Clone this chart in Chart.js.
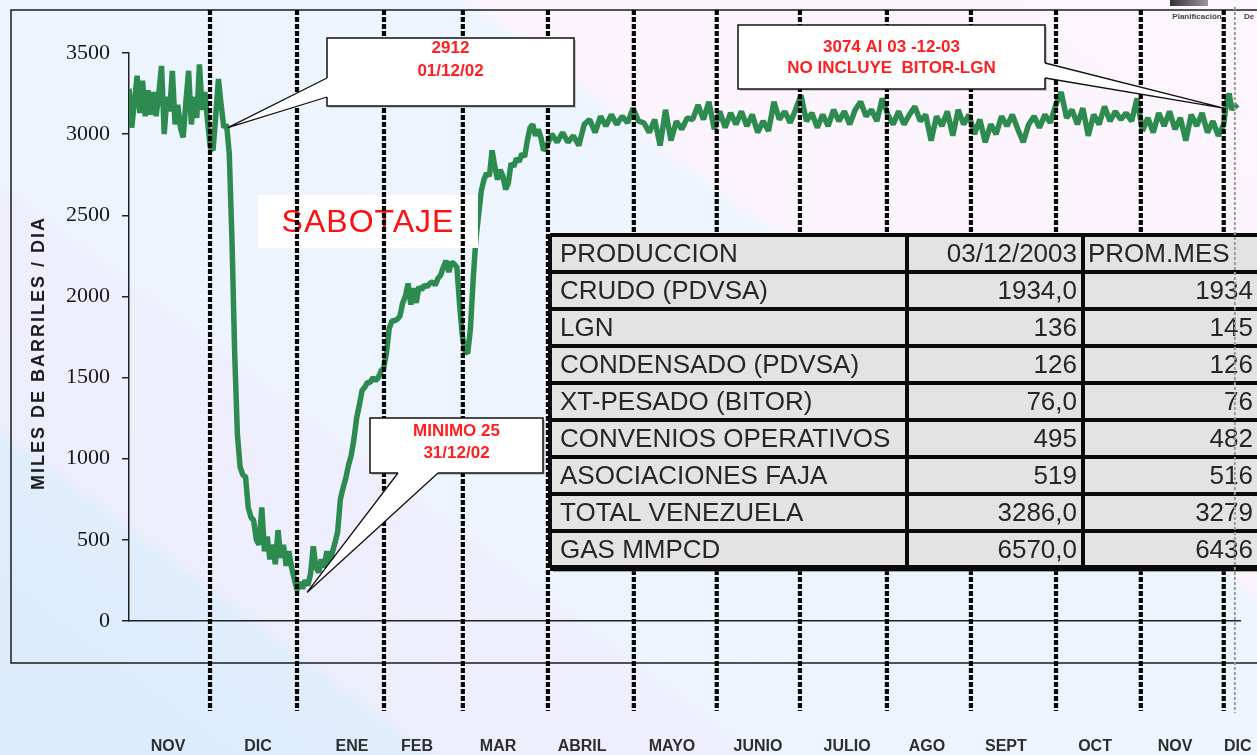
<!DOCTYPE html>
<html>
<head>
<meta charset="utf-8">
<script src="https://cdn.jsdelivr.net/npm/chart.js@4.4.1/dist/chart.umd.min.js"></script>
<style>
  html, body { margin: 0; padding: 0; }
  body {
    width: 1257px;
    height: 755px;
    overflow: hidden;
    background: linear-gradient(37deg, #dcecfd 0%, #dfedfd 18.5%, #edeefc 19.5%, #efeefc 33%, #eef4fe 34%, #eef5fe 64.5%, #fcf4fc 65.5%, #fdf5fd 100%);
  }
  #wrap { position: relative; width: 1257px; height: 755px; }
</style>
</head>
<body>
<div id="wrap"><canvas id="produccionChart"></canvas></div>
<script>
// dias desde el inicio de la serie (fines de octubre 2002)
var dayIndex = [
  0, 1, 2, 3, 4, 5, 6, 7, 8, 9, 10, 11, 12, 13, 14, 15, 16, 17, 18, 19,
  20, 21, 22, 23, 24, 25, 26, 27, 28, 29, 30, 31, 32, 33, 34, 35, 36, 37, 38, 39,
  40, 41, 42, 43, 44, 45, 46, 47, 48, 49, 50, 51, 52, 53, 54, 55, 56, 57, 58, 59,
  60, 61, 62, 63, 64, 65, 66, 67, 68, 69, 70, 71, 72, 73, 74, 75, 76, 77, 78, 79,
  80, 81, 82, 83, 84, 85, 86, 87, 88, 89, 90, 91, 92, 93, 94, 95, 96, 97, 98, 99,
  100, 101, 102, 103, 104, 105, 106, 107, 108, 109, 110, 111, 112, 113, 114, 115, 116, 117, 118, 119,
  120, 121, 122, 123, 124, 125, 126, 127, 128, 129, 130, 131, 132, 133, 134, 135, 136, 137, 138, 139,
  140, 141, 142, 143, 144, 145, 146, 147, 148, 149, 150, 151, 152, 153, 154, 155,
  156, 158, 160, 162, 164, 166, 168, 170, 172, 174, 176, 178, 180, 182, 184, 186, 188, 190, 192, 194,
  196, 198, 200, 202, 204, 206, 208, 210, 212, 214, 216, 218, 220, 222, 224, 226, 228, 230, 232, 234,
  236, 238, 240, 242, 244, 246, 248, 250, 252, 254, 256, 258, 260, 262, 264, 266, 268, 270, 272, 274,
  276, 278, 280, 282, 284, 286, 288, 290, 292, 294, 296, 298, 300, 302, 304, 306, 308, 310, 312, 314,
  316, 318, 320, 322, 324, 326, 328, 330, 332, 334, 336, 338, 340, 342, 344, 346, 348, 350, 352, 354,
  356, 358, 360, 362, 364, 366, 368, 370, 372, 374, 376, 378, 380, 382, 384, 386, 388, 390, 392, 394,
  396, 398, 400, 402, 404, 405, 406, 407, 408, 409
];

// miles de barriles por dia
var barrels = [
  3280, 3040, 3200, 3360, 3130, 3330, 3110, 3270, 3120, 3260, 3110, 3250, 3420, 3000, 3230, 3140, 3390, 3060, 3180, 3040,
  2980, 3200, 3390, 3060, 3230, 3100, 3430, 3150, 3260, 3080, 2920, 2900, 3110, 3340, 3180, 3040, 3060, 2880, 2350, 1650,
  1150, 950, 900, 890, 700, 640, 620, 500, 470, 700, 430, 520, 380, 470, 350, 560, 390, 470, 340, 430,
  330, 260, 190, 240, 200, 250, 220, 290, 460, 330, 300, 380, 330, 430, 340, 420, 480, 550, 750, 820,
  880, 960, 1020, 1120, 1250, 1330, 1420, 1440, 1470, 1470, 1500, 1480, 1500, 1540, 1560, 1650, 1800, 1850, 1850, 1860,
  1880, 1960, 2000, 2080, 1950, 2050, 1960, 2060, 2040, 2070, 2060, 2080, 2090, 2070, 2110, 2130, 2180, 2220, 2150, 2210,
  2200, 2180, 1950, 1760, 1660, 1650, 1800, 2100, 2350, 2500, 2650, 2720, 2760, 2740, 2900, 2800, 2720, 2780, 2740, 2660,
  2700, 2820, 2800, 2850, 2830, 2880, 2860, 2960, 3040, 3060, 2990, 3030, 2980, 2900, 2920, 2960,
  3000, 2950, 3010, 2950, 2990, 2930, 3060, 3090, 3010, 3110, 3050, 3120, 3060, 3110, 3070, 3160, 3080, 3070, 3010, 3090,
  2930, 3150, 2960, 3080, 3030, 3100, 3090, 3180, 3090, 3200, 3030, 3140, 3040, 3130, 3060, 3140, 3050, 3120, 3010, 3080,
  3020, 3200, 3090, 3140, 3070, 3150, 3240, 3080, 3130, 3040, 3120, 3050, 3150, 3080, 3140, 3060, 3150, 3200, 3110, 3150,
  3080, 3220, 3120, 3060, 3140, 3060, 3120, 3170, 3080, 3120, 2960, 3110, 3050, 3140, 2990, 3150, 3060, 3120, 3000, 3090,
  2950, 3060, 3000, 3110, 3050, 3120, 3030, 2950, 3060, 3110, 3040, 3120, 3070, 3180, 3260, 3100, 3150, 3060, 3160, 2990,
  3120, 3060, 3170, 3080, 3140, 3090, 3130, 3080, 3220, 3020, 3100, 3010, 3130, 3050, 3140, 3030, 3100, 2960, 3120, 3050,
  3130, 3010, 3080, 2990, 3060, 3200, 3250, 3150, 3180, 3160
];

var yTicks = [0, 500, 1000, 1500, 2000, 2500, 3000, 3500];

var monthLabels = ["NOV", "DIC", "ENE", "FEB", "MAR", "ABRIL", "MAYO", "JUNIO", "JULIO", "AGO", "SEPT", "OCT", "NOV", "DIC"];
var monthLabelDays = [14.4, 47.6, 82.3, 106.3, 136.2, 167.2, 200.4, 232.1, 265.0, 294.5, 323.6, 356.5, 386.0, 409.2];
var monthSplitDays = [29.9, 62.0, 94.1, 123.2, 154.6, 186.3, 216.9, 247.6, 279.7, 310.7, 342.1, 373.4, 404.0];
var cutoffDay = 408.1;

// notas: texto y punto que senalan
var noteLines = [["2912", "01/12/02"], ["3074 Al 03 -12-03", "NO INCLUYE  BITOR-LGN"], ["MINIMO 25", "31/12/02"]];
var noteDays = [36.5, 404, 65.7];
var noteValues = [3040, 3160, 176];

var tableLabels = ["PRODUCCION", "CRUDO (PDVSA)", "LGN", "CONDENSADO (PDVSA)", "XT-PESADO (BITOR)", "CONVENIOS OPERATIVOS", "ASOCIACIONES FAJA", "TOTAL VENEZUELA", "GAS MMPCD"];
var tableDay = ["03/12/2003", "1934,0", "136", "126", "76,0", "495", "519", "3286,0", "6570,0"];
var tableMonth = ["PROM.MES", "1934", "145", "126", "76", "482", "516", "3279", "6436"];

function vDotted(ctx, x, y1, y2, color, width, dash) {
  ctx.save();
  ctx.strokeStyle = color;
  ctx.lineWidth = width;
  ctx.setLineDash(dash);
  ctx.beginPath();
  ctx.moveTo(x, y1);
  ctx.lineTo(x, y2);
  ctx.stroke();
  ctx.restore();
}

function drawNote(ctx, box, b1, b2, inward, tip, lines, lineYs) {
  ctx.save();
  ctx.fillStyle = "rgba(0,0,0,0.18)";
  ctx.fillRect(box[0] + 2, box[1] + 2, box[2], box[3]);
  ctx.fillStyle = "#ffffff";
  ctx.fillRect(box[0], box[1], box[2], box[3]);
  ctx.strokeStyle = "#111";
  ctx.lineWidth = 1.5;
  ctx.strokeRect(box[0], box[1], box[2], box[3]);

  // cuña del globo
  ctx.beginPath();
  ctx.moveTo(b1[0] + inward[0], b1[1] + inward[1]);
  ctx.lineTo(b1[0], b1[1]);
  ctx.lineTo(tip[0], tip[1]);
  ctx.lineTo(b2[0], b2[1]);
  ctx.lineTo(b2[0] + inward[0], b2[1] + inward[1]);
  ctx.closePath();
  ctx.fill();
  ctx.lineWidth = 1.3;
  ctx.beginPath();
  ctx.moveTo(b1[0], b1[1]);
  ctx.lineTo(tip[0], tip[1]);
  ctx.lineTo(b2[0], b2[1]);
  ctx.stroke();

  ctx.fillStyle = "#ff1f1f";
  ctx.font = "bold 17px 'Liberation Sans', Arial, sans-serif";
  ctx.textAlign = "center";
  ctx.textBaseline = "middle";
  var cx = box[0] + box[2] / 2;
  for (var i = 0; i < lines.length; i++) {
    ctx.fillText(lines[i], cx, lineYs[i]);
  }
  ctx.restore();
}

var overlayPlugin = {
  id: "overlay",
  beforeDatasetsDraw: function (chart) {
    var ctx = chart.ctx;
    ctx.save();
    ctx.strokeStyle = "#1c1c1c";
    ctx.lineWidth = 1.5;
    ctx.strokeRect(11, 10, 1300, 653);
    ctx.restore();
  },
  afterDatasetsDraw: function (chart) {
    var ctx = chart.ctx;
    var xs = chart.scales.x;
    var ys = chart.scales.y;

    // SABOTAJE
    ctx.save();
    ctx.fillStyle = "#ffffff";
    ctx.fillRect(258, 195, 220, 53);
    ctx.fillStyle = "#ff1010";
    ctx.font = "32px 'Liberation Sans', Arial, sans-serif";
    ctx.letterSpacing = "1px";
    ctx.textAlign = "center";
    ctx.textBaseline = "middle";
    ctx.fillText("SABOTAJE", 368, 223);
    ctx.restore();

    // separadores de mes
    monthSplitDays.forEach(function (d) {
      vDotted(ctx, xs.getPixelForValue(d), 10, 711, "#050505", 4.2, [5, 2]);
    });

    // notas
    var t0 = [xs.getPixelForValue(noteDays[0]), ys.getPixelForValue(noteValues[0])];
    drawNote(ctx, [327, 38, 247, 68], [327, 78], [327, 97], [4, 0], t0, noteLines[0], [48, 71]);
    var t1 = [xs.getPixelForValue(noteDays[1]), ys.getPixelForValue(noteValues[1])];
    drawNote(ctx, [738, 25, 307, 64], [1045, 63], [1045, 78], [-4, 0], t1, noteLines[1], [47, 68]);
    var t2 = [xs.getPixelForValue(noteDays[2]), ys.getPixelForValue(noteValues[2])];
    drawNote(ctx, [370, 418, 173, 55], [398, 473], [438, 473], [0, -4], t2, noteLines[2], [431, 453]);

    // tabla
    var left = 550, top = 235, rowH = 37, c1 = 907, c2 = 1083, right = 1264;
    var bottom = top + rowH * tableLabels.length;
    ctx.save();
    ctx.fillStyle = "rgba(80,80,80,0.5)";
    ctx.fillRect(left + 3, bottom, right - left, 4);
    ctx.fillStyle = "#e3e3e3";
    ctx.fillRect(left, top, right - left, bottom - top);
    ctx.strokeStyle = "#0a0a0a";
    ctx.lineWidth = 4;
    ctx.beginPath();
    for (var r = 0; r <= tableLabels.length; r++) {
      ctx.moveTo(left, top + r * rowH);
      ctx.lineTo(right, top + r * rowH);
    }
    [left, c1, c2].forEach(function (x) {
      ctx.moveTo(x, top);
      ctx.lineTo(x, bottom);
    });
    ctx.stroke();
    ctx.lineWidth = 6;
    ctx.beginPath();
    ctx.moveTo(left, bottom);
    ctx.lineTo(right, bottom);
    ctx.stroke();

    ctx.fillStyle = "#262626";
    ctx.font = "26px 'Liberation Sans', Arial, sans-serif";
    ctx.textBaseline = "middle";
    for (var i = 0; i < tableLabels.length; i++) {
      var y = top + rowH * i + rowH / 2 + 1;
      ctx.textAlign = "left";
      ctx.fillText(tableLabels[i], left + 10, y);
      ctx.textAlign = "right";
      ctx.fillText(tableDay[i], c1 + 170, y);
      if (i === 0) {
        ctx.textAlign = "left";
        ctx.fillText(tableMonth[i], c2 + 5, y);
      } else {
        ctx.textAlign = "right";
        ctx.fillText(tableMonth[i], 1253, y);
      }
    }
    ctx.restore();

    // linea gris punteada al borde derecho
    vDotted(ctx, xs.getPixelForValue(cutoffDay), 7, 713, "#9a9a9a", 2, [3, 2]);

    // logo arriba a la derecha
    ctx.save();
    var g = ctx.createLinearGradient(1170, 0, 1208, 0);
    g.addColorStop(0, "#333");
    g.addColorStop(1, "#999");
    ctx.fillStyle = g;
    ctx.fillRect(1170, 0, 38, 6);
    ctx.fillStyle = "#444";
    ctx.font = "bold 8px 'Liberation Sans', Arial, sans-serif";
    ctx.textAlign = "center";
    ctx.textBaseline = "middle";
    ctx.fillText("Planificación", 1197, 17);
    ctx.fillText("De", 1249, 17);
    ctx.restore();

    // titulo del eje Y
    ctx.save();
    ctx.translate(39, 353);
    ctx.rotate(-Math.PI / 2);
    ctx.fillStyle = "#1e1e1e";
    ctx.font = "bold 18px 'Liberation Sans', Arial, sans-serif";
    ctx.letterSpacing = "2px";
    ctx.textAlign = "center";
    ctx.textBaseline = "middle";
    ctx.fillText("MILES DE BARRILES / DIA", 0, 0);
    ctx.restore();
  }
};

new Chart(document.getElementById("produccionChart"), {
  type: "line",
  data: {
    datasets: [
      {
        label: "Produccion",
        data: dayIndex.map(function (d, i) { return { x: d, y: barrels[i] }; }),
        borderColor: "#2e8b4f",
        borderWidth: 5.5,
        borderJoinStyle: "bevel",
        pointRadius: 0,
        tension: 0,
        fill: false,
      },
    ],
  },
  options: {
    responsive: true,
    maintainAspectRatio: false,
    animation: false,
    layout: {
      padding: { left: 0, right: 17, top: 53, bottom: 0 },
    },
    plugins: {
      legend: { display: false },
      title: { display: false },
      tooltip: { enabled: false },
    },
    scales: {
      x: {
        type: "linear",
        min: 0,
        max: 410,
        grid: { display: false, drawTicks: false },
        border: { display: true, color: "#222", width: 1.5 },
        afterBuildTicks: function (scale) {
          scale.ticks = monthLabelDays.map(function (v) { return { value: v }; });
        },
        afterFit: function (scale) {
          scale.height = 134;
          scale.paddingLeft = 0;
          scale.paddingRight = 0;
        },
        ticks: {
          autoSkip: false,
          maxRotation: 0,
          padding: 116,
          color: "#2e2e2e",
          font: { family: "'Liberation Sans', Arial, sans-serif", size: 16, weight: "bold" },
          callback: function (value, index) {
            return monthLabels[index];
          },
        },
      },
      y: {
        min: 0,
        max: 3500,
        grid: { drawOnChartArea: false, drawTicks: true, tickLength: 7, color: "#222", lineWidth: 1.5 },
        border: { display: true, color: "#222", width: 1.5 },
        afterBuildTicks: function (scale) {
          scale.ticks = yTicks.map(function (v) { return { value: v }; });
        },
        afterFit: function (scale) {
          scale.width = 129;
          scale.paddingTop = 0;
          scale.paddingBottom = 0;
        },
        ticks: {
          padding: 12,
          color: "#161616",
          font: { family: "'Liberation Serif', 'Times New Roman', serif", size: 22 },
          callback: function (value) {
            return String(value);
          },
        },
      },
    },
  },
  plugins: [overlayPlugin],
});
</script>
</body>
</html>
